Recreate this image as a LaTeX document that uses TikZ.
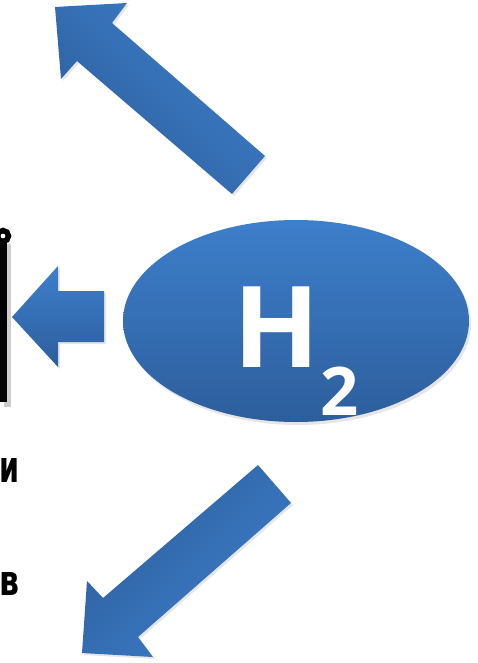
\documentclass[tikz,border=0pt]{standalone}
\usepackage{fontspec}
\usetikzlibrary{shadows,shapes.geometric}
\newfontfamily\hfont{Open Sans}
\newfontfamily\cyrfont{DejaVu Sans}
\definecolor{bluelight}{RGB}{61,127,203}
\definecolor{bluedark}{RGB}{45,94,156}
\tikzset{
  blockarrow/.style={draw=none, drop shadow={opacity=0.2, shadow xshift=2pt, shadow yshift=-2pt}},
  cyrtext/.style={anchor=base west, inner sep=0pt, font=\cyrfont\bfseries\fontsize{45}{45}\selectfont, text=black},
}
\begin{document}
\begin{tikzpicture}[x=1pt,y=-1pt]
\useasboundingbox (0,0) rectangle (477,663);
\clip (0,0) rectangle (477,663);
% black scroll edge
\fill[black!20] (4,244) rectangle (11,407);
\fill[black] (-4,240) rectangle (7,402);
\draw[black, line width=5.5pt, fill=white] (3,236) circle[radius=5.5];
% ellipse
\node[ellipse, minimum width=346pt, minimum height=202pt, draw=none, inner sep=0pt,
      top color=bluelight, bottom color=bluedark,
      drop shadow={opacity=0.2, shadow xshift=2pt, shadow yshift=-3pt}] (h2) at (296,321) {};
\node[anchor=base west, inner sep=0pt, text=white] (h2lbl) at (233,367)
  {\hfont\bfseries\fontsize{113}{113}\selectfont H\kern1pt\raisebox{-48pt}{\fontsize{67}{67}\selectfont 2}};
% left arrow
\path[blockarrow, top color=bluelight, bottom color=bluedark]
  (12,317) -- (58,266) -- (58,291) -- (104,291) -- (104,342) -- (58,342) -- (58,367) -- cycle;
% upper arrow
\path[blockarrow, top color=bluelight, bottom color=bluedark, shading angle=-45]
  (55,7) -- (127,3) -- (112,23) -- (265,156) -- (232,194) -- (77,61) -- (61,79) -- cycle;
% lower arrow
\path[blockarrow, top color=bluedark, bottom color=bluelight, shading angle=45]
  (82,653) -- (87,581) -- (103,598) -- (258,465) -- (291,503) -- (138,637) -- (153,657) -- cycle;
% texts at the left edge
\node[cyrtext] (t1) at (-1,482) {\resizebox{20pt}{24pt}{и}};
\node[cyrtext] (t2) at (-1,595) {\resizebox{20pt}{23pt}{в}};
\end{tikzpicture}
\end{document}
